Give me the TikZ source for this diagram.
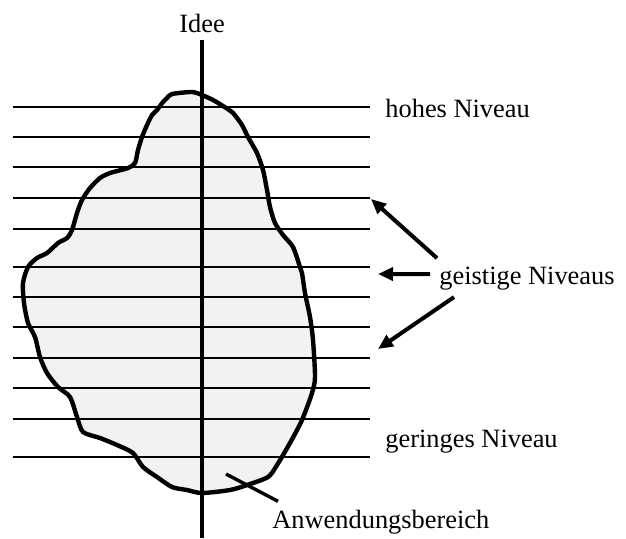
\documentclass[tikz,border=0pt]{standalone}
\usepackage{fontspec}
\setmainfont{Liberation Serif}
\usepackage{tikz}
\usetikzlibrary{positioning}
\usetikzlibrary{calc}
\usetikzlibrary{arrows.meta}

\tikzset{
    niveau/.style={line width=1pt},
    zeiger/.style={line width=2pt, -{Triangle[length=7.5pt, width=6.5pt]}},
    beschrift/.style={inner sep=0pt, font=\fontsize{13.2}{16}\selectfont}
}

\begin{document}
\begin{tikzpicture}[x=0.5pt, y=-0.5pt]
    \useasboundingbox (0,0) rectangle (626,538);
    \fill[gray!10] plot[smooth cycle, tension=0.45] coordinates {
        (202,95) (192,92) (172,94) (167,98) (163,102) (157,110) (152,115)
        (147,125) (142,137) (138,150) (135,163) (128,168) (110,173) (100,178)
        (90,188) (82,200) (77,213) (72,230) (67,238) (58,243) (47,253)
        (37,258) (28,267) (23,283) (24,303) (28,323) (35,337) (40,357)
        (47,373) (58,387) (70,397) (77,417) (83,432) (100,438) (117,445)
        (133,453) (143,467) (157,477) (172,487) (187,490) (202,493) (230,490)
        (247,485) (268,477) (277,465) (290,443) (302,420) (312,393) (315,377)
        (313,340) (310,317) (305,293) (302,273) (300,267) (293,247) (283,235)
        (275,223) (270,207) (267,190) (263,170) (257,153) (248,137) (242,125)
        (233,113) (223,106) (213,100)};
    \foreach \y in {107,137,167,198,229,267,297,327,358,388,419,457}
        \draw[niveau] (13,\y) -- (370,\y);
    \draw[line width=2.2pt, line join=round] plot[smooth cycle, tension=0.45] coordinates {
        (202,95) (192,92) (172,94) (167,98) (163,102) (157,110) (152,115)
        (147,125) (142,137) (138,150) (135,163) (128,168) (110,173) (100,178)
        (90,188) (82,200) (77,213) (72,230) (67,238) (58,243) (47,253)
        (37,258) (28,267) (23,283) (24,303) (28,323) (35,337) (40,357)
        (47,373) (58,387) (70,397) (77,417) (83,432) (100,438) (117,445)
        (133,453) (143,467) (157,477) (172,487) (187,490) (202,493) (230,490)
        (247,485) (268,477) (277,465) (290,443) (302,420) (312,393) (315,377)
        (313,340) (310,317) (305,293) (302,273) (300,267) (293,247) (283,235)
        (275,223) (270,207) (267,190) (263,170) (257,153) (248,137) (242,125)
        (233,113) (223,106) (213,100)};

    \node[beschrift] (idee) at (202,23) {Idee};
    \coordinate (achseunten) at (202,538);
    \draw[line width=1.8pt] ($(idee.south)+(0,7)$) -- (achseunten);

    \node[beschrift, anchor=base west] (hoch) at (385,117) {hohes Niveau};
    \node[beschrift, anchor=base west] (geistig) at (439,284) {geistige Niveaus};
    \node[beschrift, anchor=base west] (gering) at (385,447) {geringes Niveau};
    \node[beschrift, anchor=base west] (anwendung) at (272,528) {Anwendungsbereich};

    \coordinate (ziel1) at (371,199);
    \coordinate (ziel2) at (378,274);
    \coordinate (ziel3) at (378,349);
    \coordinate (bereich) at (226,474);
    \draw[zeiger] ($(geistig.north west)+(-2,-8)$) -- (ziel1);
    \draw[zeiger] ($(geistig.west)+(-9,-4)$) -- (ziel2);
    \draw[zeiger] ($(geistig.south west)+(15,7)$) -- (ziel3);
    \draw[line width=1.7pt] ($(anwendung.north west)+(6,-8)$) -- (bereich);
\end{tikzpicture}
\end{document}
